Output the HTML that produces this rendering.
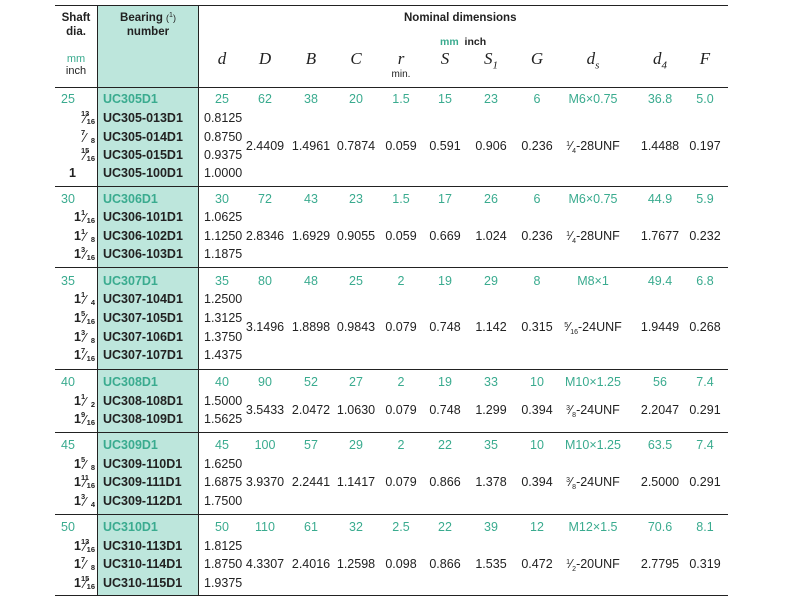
<!DOCTYPE html>
<html><head><meta charset="utf-8"><style>
body{margin:0;background:#fff;width:790px;height:600px;position:relative;overflow:hidden;font-family:"Liberation Sans",Arial,sans-serif;color:#222;}
.a{position:absolute;white-space:nowrap;line-height:14px;font-size:12.5px;}
.hl{position:absolute;left:55px;width:673px;height:1.3px;background:#222;}
.bg{position:absolute;left:98px;top:5px;width:100px;height:590px;background:#bde6dc;}
.vl{position:absolute;width:1.3px;background:#222;}
.t{color:#3aab8f;}
.b{font-weight:bold;}
.h{position:absolute;font-family:"Liberation Serif",serif;font-style:italic;font-size:17px;line-height:18px;width:60px;text-align:center;}
.c{width:60px;text-align:center;}
.fr{position:absolute;width:40px;text-align:right;font-weight:bold;font-size:12.5px;line-height:14px;white-space:nowrap;}
.f{display:inline-block;position:relative;width:12px;height:14px;vertical-align:top;font-weight:bold;}
.f i{position:absolute;font-style:normal;font-size:7.5px;line-height:8px;}
.f .n{left:0;top:-1px;}
.f .s{left:3px;top:1px;font-size:13px;line-height:13px;font-weight:normal;}
.f .d{right:-2px;top:7px;}
.u,.l{font-size:7px;position:relative;line-height:0;}
.u{top:-4px;}.l{top:3px;}
sub{font-size:11px;}
</style></head><body>
<div class="bg"></div>
<div class="hl" style="top:5px"></div>
<div class="hl" style="top:87px"></div>
<div class="hl" style="top:186px"></div>
<div class="hl" style="top:267px"></div>
<div class="hl" style="top:369px"></div>
<div class="hl" style="top:432px"></div>
<div class="hl" style="top:514px"></div>
<div class="hl" style="top:595px"></div>
<div class="vl" style="left:97px;top:5px;height:590px"></div>
<div class="vl" style="left:198px;top:5px;height:590px"></div>

<div class="a b" style="left:46px;width:60px;text-align:center;top:11px;font-size:11.5px">Shaft</div>
<div class="a b" style="left:46px;width:60px;text-align:center;top:25px;font-size:11.5px">dia.</div>
<div class="a t" style="left:46px;width:60px;text-align:center;top:52px;font-size:11px">mm</div>
<div class="a" style="left:46px;width:60px;text-align:center;top:64px;font-size:11px">inch</div>
<div class="a b" style="left:98px;width:100px;text-align:center;top:11px;font-size:11.5px">Bearing <span style="font-weight:normal;font-size:9px">(<span class="u">1</span>)</span></div>
<div class="a b" style="left:98px;width:100px;text-align:center;top:25px;font-size:11.5px">number</div>
<div class="a b" style="left:404px;top:11px;font-size:11.5px">Nominal dimensions</div>
<div class="a" style="left:440px;top:35px;font-size:10.5px"><span class="t b">mm</span>&nbsp; <b>inch</b></div>
<div class="h" style="left:192px;top:50px">d</div>
<div class="h" style="left:235px;top:50px">D</div>
<div class="h" style="left:281px;top:50px">B</div>
<div class="h" style="left:326px;top:50px">C</div>
<div class="h" style="left:371px;top:50px">r</div>
<div class="a" style="left:371px;top:68px;width:60px;text-align:center;font-size:10px">min.</div>
<div class="h" style="left:415px;top:50px">S</div>
<div class="h" style="left:461px;top:50px">S<sub>1</sub></div>
<div class="h" style="left:507px;top:50px">G</div>
<div class="h" style="left:563px;top:50px">d<sub>s</sub></div>
<div class="h" style="left:630px;top:50px">d<sub>4</sub></div>
<div class="h" style="left:675px;top:50px">F</div>

<!-- Section 25 -->
<div class="a t" style="left:61px;top:92px">25</div>
<div class="a t b" style="left:103px;top:92px">UC305D1</div>
<div class="a t c" style="left:192px;top:92px">25</div><div class="a t c" style="left:235px;top:92px">62</div><div class="a t c" style="left:281px;top:92px">38</div><div class="a t c" style="left:326px;top:92px">20</div><div class="a t c" style="left:371px;top:92px">1.5</div><div class="a t c" style="left:415px;top:92px">15</div><div class="a t c" style="left:461px;top:92px">23</div><div class="a t c" style="left:507px;top:92px">6</div><div class="a t c" style="left:553px;top:92px;width:80px">M6×0.75</div><div class="a t c" style="left:630px;top:92px">36.8</div><div class="a t c" style="left:675px;top:92px">5.0</div>
<div class="fr" style="left:53px;top:111px"><span class="f"><i class="n">13</i><i class="s">⁄</i><i class="d">16</i></span></div>
<div class="fr" style="left:53px;top:130px"><span class="f"><i class="n">7</i><i class="s">⁄</i><i class="d">8</i></span></div>
<div class="fr" style="left:53px;top:148px"><span class="f"><i class="n">15</i><i class="s">⁄</i><i class="d">16</i></span></div>
<div class="fr" style="left:36px;top:166px">1</div>
<div class="a b" style="left:103px;top:111px">UC305-013D1</div>
<div class="a b" style="left:103px;top:130px">UC305-014D1</div>
<div class="a b" style="left:103px;top:148px">UC305-015D1</div>
<div class="a b" style="left:103px;top:166px">UC305-100D1</div>
<div class="a" style="left:204px;top:111px">0.8125</div><div class="a" style="left:204px;top:130px">0.8750</div><div class="a" style="left:204px;top:148px">0.9375</div><div class="a" style="left:204px;top:166px">1.0000</div>
<div class="a c" style="left:235px;top:139px">2.4409</div><div class="a c" style="left:281px;top:139px">1.4961</div><div class="a c" style="left:326px;top:139px">0.7874</div><div class="a c" style="left:371px;top:139px">0.059</div><div class="a c" style="left:415px;top:139px">0.591</div><div class="a c" style="left:461px;top:139px">0.906</div><div class="a c" style="left:507px;top:139px">0.236</div><div class="a c" style="left:553px;top:139px;width:80px"><span class="u">1</span>⁄<span class="l">4</span>-28UNF</div><div class="a c" style="left:630px;top:139px">1.4488</div><div class="a c" style="left:675px;top:139px">0.197</div>

<!-- Section 30 -->
<div class="a t" style="left:61px;top:192px">30</div>
<div class="a t b" style="left:103px;top:192px">UC306D1</div>
<div class="a t c" style="left:192px;top:192px">30</div><div class="a t c" style="left:235px;top:192px">72</div><div class="a t c" style="left:281px;top:192px">43</div><div class="a t c" style="left:326px;top:192px">23</div><div class="a t c" style="left:371px;top:192px">1.5</div><div class="a t c" style="left:415px;top:192px">17</div><div class="a t c" style="left:461px;top:192px">26</div><div class="a t c" style="left:507px;top:192px">6</div><div class="a t c" style="left:553px;top:192px;width:80px">M6×0.75</div><div class="a t c" style="left:630px;top:192px">44.9</div><div class="a t c" style="left:675px;top:192px">5.9</div>
<div class="fr" style="left:53px;top:210px">1<span class="f"><i class="n">1</i><i class="s">⁄</i><i class="d">16</i></span></div>
<div class="fr" style="left:53px;top:229px">1<span class="f"><i class="n">1</i><i class="s">⁄</i><i class="d">8</i></span></div>
<div class="fr" style="left:53px;top:247px">1<span class="f"><i class="n">3</i><i class="s">⁄</i><i class="d">16</i></span></div>
<div class="a b" style="left:103px;top:210px">UC306-101D1</div>
<div class="a b" style="left:103px;top:229px">UC306-102D1</div>
<div class="a b" style="left:103px;top:247px">UC306-103D1</div>
<div class="a" style="left:204px;top:210px">1.0625</div><div class="a" style="left:204px;top:229px">1.1250</div><div class="a" style="left:204px;top:247px">1.1875</div>
<div class="a c" style="left:235px;top:229px">2.8346</div><div class="a c" style="left:281px;top:229px">1.6929</div><div class="a c" style="left:326px;top:229px">0.9055</div><div class="a c" style="left:371px;top:229px">0.059</div><div class="a c" style="left:415px;top:229px">0.669</div><div class="a c" style="left:461px;top:229px">1.024</div><div class="a c" style="left:507px;top:229px">0.236</div><div class="a c" style="left:553px;top:229px;width:80px"><span class="u">1</span>⁄<span class="l">4</span>-28UNF</div><div class="a c" style="left:630px;top:229px">1.7677</div><div class="a c" style="left:675px;top:229px">0.232</div>

<!-- Section 35 -->
<div class="a t" style="left:61px;top:274px">35</div>
<div class="a t b" style="left:103px;top:274px">UC307D1</div>
<div class="a t c" style="left:192px;top:274px">35</div><div class="a t c" style="left:235px;top:274px">80</div><div class="a t c" style="left:281px;top:274px">48</div><div class="a t c" style="left:326px;top:274px">25</div><div class="a t c" style="left:371px;top:274px">2</div><div class="a t c" style="left:415px;top:274px">19</div><div class="a t c" style="left:461px;top:274px">29</div><div class="a t c" style="left:507px;top:274px">8</div><div class="a t c" style="left:553px;top:274px;width:80px">M8×1</div><div class="a t c" style="left:630px;top:274px">49.4</div><div class="a t c" style="left:675px;top:274px">6.8</div>
<div class="fr" style="left:53px;top:292px">1<span class="f"><i class="n">1</i><i class="s">⁄</i><i class="d">4</i></span></div>
<div class="fr" style="left:53px;top:311px">1<span class="f"><i class="n">5</i><i class="s">⁄</i><i class="d">16</i></span></div>
<div class="fr" style="left:53px;top:330px">1<span class="f"><i class="n">3</i><i class="s">⁄</i><i class="d">8</i></span></div>
<div class="fr" style="left:53px;top:348px">1<span class="f"><i class="n">7</i><i class="s">⁄</i><i class="d">16</i></span></div>
<div class="a b" style="left:103px;top:292px">UC307-104D1</div>
<div class="a b" style="left:103px;top:311px">UC307-105D1</div>
<div class="a b" style="left:103px;top:330px">UC307-106D1</div>
<div class="a b" style="left:103px;top:348px">UC307-107D1</div>
<div class="a" style="left:204px;top:292px">1.2500</div><div class="a" style="left:204px;top:311px">1.3125</div><div class="a" style="left:204px;top:330px">1.3750</div><div class="a" style="left:204px;top:348px">1.4375</div>
<div class="a c" style="left:235px;top:320px">3.1496</div><div class="a c" style="left:281px;top:320px">1.8898</div><div class="a c" style="left:326px;top:320px">0.9843</div><div class="a c" style="left:371px;top:320px">0.079</div><div class="a c" style="left:415px;top:320px">0.748</div><div class="a c" style="left:461px;top:320px">1.142</div><div class="a c" style="left:507px;top:320px">0.315</div><div class="a c" style="left:553px;top:320px;width:80px"><span class="u">5</span>⁄<span class="l">16</span>-24UNF</div><div class="a c" style="left:630px;top:320px">1.9449</div><div class="a c" style="left:675px;top:320px">0.268</div>

<!-- Section 40 -->
<div class="a t" style="left:61px;top:375px">40</div>
<div class="a t b" style="left:103px;top:375px">UC308D1</div>
<div class="a t c" style="left:192px;top:375px">40</div><div class="a t c" style="left:235px;top:375px">90</div><div class="a t c" style="left:281px;top:375px">52</div><div class="a t c" style="left:326px;top:375px">27</div><div class="a t c" style="left:371px;top:375px">2</div><div class="a t c" style="left:415px;top:375px">19</div><div class="a t c" style="left:461px;top:375px">33</div><div class="a t c" style="left:507px;top:375px">10</div><div class="a t c" style="left:553px;top:375px;width:80px">M10×1.25</div><div class="a t c" style="left:630px;top:375px">56</div><div class="a t c" style="left:675px;top:375px">7.4</div>
<div class="fr" style="left:53px;top:394px">1<span class="f"><i class="n">1</i><i class="s">⁄</i><i class="d">2</i></span></div>
<div class="fr" style="left:53px;top:412px">1<span class="f"><i class="n">9</i><i class="s">⁄</i><i class="d">16</i></span></div>
<div class="a b" style="left:103px;top:394px">UC308-108D1</div>
<div class="a b" style="left:103px;top:412px">UC308-109D1</div>
<div class="a" style="left:204px;top:394px">1.5000</div><div class="a" style="left:204px;top:412px">1.5625</div>
<div class="a c" style="left:235px;top:403px">3.5433</div><div class="a c" style="left:281px;top:403px">2.0472</div><div class="a c" style="left:326px;top:403px">1.0630</div><div class="a c" style="left:371px;top:403px">0.079</div><div class="a c" style="left:415px;top:403px">0.748</div><div class="a c" style="left:461px;top:403px">1.299</div><div class="a c" style="left:507px;top:403px">0.394</div><div class="a c" style="left:553px;top:403px;width:80px"><span class="u">3</span>⁄<span class="l">8</span>-24UNF</div><div class="a c" style="left:630px;top:403px">2.2047</div><div class="a c" style="left:675px;top:403px">0.291</div>

<!-- Section 45 -->
<div class="a t" style="left:61px;top:438px">45</div>
<div class="a t b" style="left:103px;top:438px">UC309D1</div>
<div class="a t c" style="left:192px;top:438px">45</div><div class="a t c" style="left:235px;top:438px">100</div><div class="a t c" style="left:281px;top:438px">57</div><div class="a t c" style="left:326px;top:438px">29</div><div class="a t c" style="left:371px;top:438px">2</div><div class="a t c" style="left:415px;top:438px">22</div><div class="a t c" style="left:461px;top:438px">35</div><div class="a t c" style="left:507px;top:438px">10</div><div class="a t c" style="left:553px;top:438px;width:80px">M10×1.25</div><div class="a t c" style="left:630px;top:438px">63.5</div><div class="a t c" style="left:675px;top:438px">7.4</div>
<div class="fr" style="left:53px;top:457px">1<span class="f"><i class="n">5</i><i class="s">⁄</i><i class="d">8</i></span></div>
<div class="fr" style="left:53px;top:475px">1<span class="f"><i class="n">11</i><i class="s">⁄</i><i class="d">16</i></span></div>
<div class="fr" style="left:53px;top:494px">1<span class="f"><i class="n">3</i><i class="s">⁄</i><i class="d">4</i></span></div>
<div class="a b" style="left:103px;top:457px">UC309-110D1</div>
<div class="a b" style="left:103px;top:475px">UC309-111D1</div>
<div class="a b" style="left:103px;top:494px">UC309-112D1</div>
<div class="a" style="left:204px;top:457px">1.6250</div><div class="a" style="left:204px;top:475px">1.6875</div><div class="a" style="left:204px;top:494px">1.7500</div>
<div class="a c" style="left:235px;top:475px">3.9370</div><div class="a c" style="left:281px;top:475px">2.2441</div><div class="a c" style="left:326px;top:475px">1.1417</div><div class="a c" style="left:371px;top:475px">0.079</div><div class="a c" style="left:415px;top:475px">0.866</div><div class="a c" style="left:461px;top:475px">1.378</div><div class="a c" style="left:507px;top:475px">0.394</div><div class="a c" style="left:553px;top:475px;width:80px"><span class="u">3</span>⁄<span class="l">8</span>-24UNF</div><div class="a c" style="left:630px;top:475px">2.5000</div><div class="a c" style="left:675px;top:475px">0.291</div>

<!-- Section 50 -->
<div class="a t" style="left:61px;top:520px">50</div>
<div class="a t b" style="left:103px;top:520px">UC310D1</div>
<div class="a t c" style="left:192px;top:520px">50</div><div class="a t c" style="left:235px;top:520px">110</div><div class="a t c" style="left:281px;top:520px">61</div><div class="a t c" style="left:326px;top:520px">32</div><div class="a t c" style="left:371px;top:520px">2.5</div><div class="a t c" style="left:415px;top:520px">22</div><div class="a t c" style="left:461px;top:520px">39</div><div class="a t c" style="left:507px;top:520px">12</div><div class="a t c" style="left:553px;top:520px;width:80px">M12×1.5</div><div class="a t c" style="left:630px;top:520px">70.6</div><div class="a t c" style="left:675px;top:520px">8.1</div>
<div class="fr" style="left:53px;top:539px">1<span class="f"><i class="n">13</i><i class="s">⁄</i><i class="d">16</i></span></div>
<div class="fr" style="left:53px;top:557px">1<span class="f"><i class="n">7</i><i class="s">⁄</i><i class="d">8</i></span></div>
<div class="fr" style="left:53px;top:576px">1<span class="f"><i class="n">15</i><i class="s">⁄</i><i class="d">16</i></span></div>
<div class="a b" style="left:103px;top:539px">UC310-113D1</div>
<div class="a b" style="left:103px;top:557px">UC310-114D1</div>
<div class="a b" style="left:103px;top:576px">UC310-115D1</div>
<div class="a" style="left:204px;top:539px">1.8125</div><div class="a" style="left:204px;top:557px">1.8750</div><div class="a" style="left:204px;top:576px">1.9375</div>
<div class="a c" style="left:235px;top:557px">4.3307</div><div class="a c" style="left:281px;top:557px">2.4016</div><div class="a c" style="left:326px;top:557px">1.2598</div><div class="a c" style="left:371px;top:557px">0.098</div><div class="a c" style="left:415px;top:557px">0.866</div><div class="a c" style="left:461px;top:557px">1.535</div><div class="a c" style="left:507px;top:557px">0.472</div><div class="a c" style="left:553px;top:557px;width:80px"><span class="u">1</span>⁄<span class="l">2</span>-20UNF</div><div class="a c" style="left:630px;top:557px">2.7795</div><div class="a c" style="left:675px;top:557px">0.319</div>
</body></html>
